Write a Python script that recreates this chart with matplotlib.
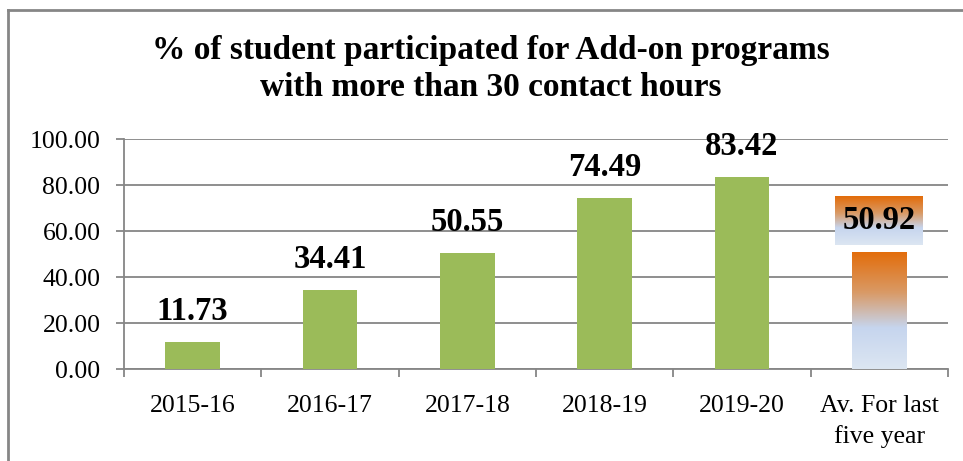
import numpy as np
import matplotlib.pyplot as plt
from matplotlib.colors import LinearSegmentedColormap
from matplotlib.lines import Line2D

categories = ["2015-16", "2016-17", "2017-18", "2018-19", "2019-20", "Av. For last\nfive year"]
values = [11.73, 34.41, 50.55, 74.49, 83.42, 50.92]
labels = ["11.73", "34.41", "50.55", "74.49", "83.42", "50.92"]
title = "% of student participated for Add-on programs\nwith more than 30 contact hours"

plt.rcParams['font.family'] = ['Liberation Serif', 'DejaVu Serif']

grey = "#868686"
green = "#9BBB59"
grad = LinearSegmentedColormap.from_list(
    "grad", [(0.0, "#DCE6F2"), (0.35, "#C6D5EE"), (0.65, "#D99A66"), (1.0, "#E36C09")])

fig = plt.figure(figsize=(9.63, 4.61), dpi=100)
ax = fig.add_axes([124 / 963, 1 - 369 / 461, (948 - 124) / 963, 230 / 461])

x = np.arange(len(categories))
bars = ax.bar(x, values, width=0.40, color=green, zorder=3)

# gradient fill for the average bar
last = bars[-1]
last.set_facecolor("none")
gy = np.linspace(0, 1, 256).reshape(-1, 1)
bx0 = last.get_x()
im = ax.imshow(gy, cmap=grad, origin="lower", aspect="auto",
               extent=[bx0, bx0 + last.get_width(), 0, last.get_height()], zorder=3)
im.set_clip_path(last)

ax.set_yticks(np.arange(0, 101, 20))
ax.set_yticklabels([f"{v:.2f}" for v in np.arange(0, 101, 20)])
ax.set_xticks(x)
ax.set_xticklabels(categories, linespacing=1.4)
ax.set_xticks(np.arange(-0.5, len(categories)), minor=True)

ax.yaxis.grid(True, color=grey, lw=1.3, zorder=0)
ax.set_axisbelow(True)
for s in ["top", "right"]:
    ax.spines[s].set_visible(False)
for s in ["left", "bottom"]:
    ax.spines[s].set_color(grey)
    ax.spines[s].set_linewidth(1.3)
ax.tick_params(axis="x", which="major", length=0, labelsize=18.5, pad=19)
ax.tick_params(axis="x", which="minor", length=6, color=grey, width=1.3)
ax.tick_params(axis="y", length=6, color=grey, width=1.3, labelsize=18.5, pad=11)

# data labels
for i, (v, lab) in enumerate(zip(values, labels)):
    if i < len(values) - 1:
        ax.annotate(lab, (x[i], v), xytext=(0, 22), textcoords="offset points",
                    ha="center", va="center", fontsize=23.5, fontweight="bold", zorder=5)
    else:
        y0, y1 = v + 3, v + 24
        ax.imshow(gy, cmap=grad, origin="lower", aspect="auto",
                  extent=[x[i] - 0.32, x[i] + 0.32, y0, y1], zorder=4)
        ax.text(x[i], (y0 + y1) / 2, lab, ha="center", va="center",
                fontsize=23.5, fontweight="bold", zorder=5)

ax.set_xlim(-0.5, len(categories) - 0.5)
ax.set_ylim(0, 100)

fig.text(491 / 963, 1 - 69 / 461, title, ha="center", va="center", fontsize=24,
         fontweight="bold", linespacing=1.22)

# chart border (top and left visible)
fig.add_artist(Line2D([8 / 963, 1], [1 - 10 / 461] * 2, transform=fig.transFigure, color=grey, lw=2))
fig.add_artist(Line2D([8 / 963] * 2, [0, 1 - 10 / 461], transform=fig.transFigure, color=grey, lw=2))

fig.savefig("out.png", dpi=100)
